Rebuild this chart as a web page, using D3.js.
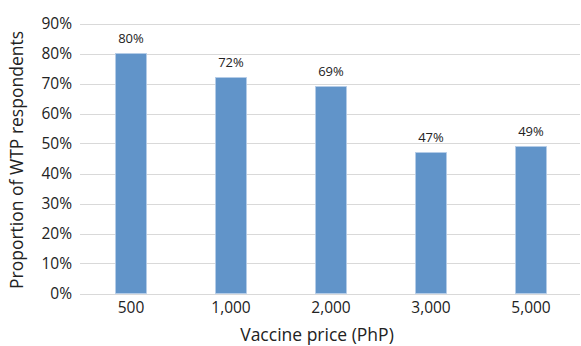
<!DOCTYPE html>
<html><head><meta charset="utf-8">
<script src="https://cdn.jsdelivr.net/npm/d3@7"></script>
<style>body{margin:0;background:#fff}text{font-family:"Open Sans",sans-serif;fill:#222}</style>
</head><body>
<svg id="c" width="581" height="346"></svg>
<script>
const categories = ["500","1,000","2,000","3,000","5,000"];
const values = [80, 72, 69, 47, 49];
const yTicks = [0,10,20,30,40,50,60,70,80,90];

const svg = d3.select("#c");
const m = {left:81, right:0, top:23.5, bottom:52.5};
const W = 581, H = 346;
const x = d3.scaleBand().domain(categories).range([m.left, W - m.right]).paddingInner(0.69).paddingOuter(0.345);
const y = d3.scaleLinear().domain([0,90]).range([H - m.bottom, m.top]);

const grid = svg.append("g");
grid.selectAll("line").data(yTicks).join("line")
  .attr("x1", m.left - 1).attr("x2", W - 1)
  .attr("y1", d => Math.round(y(d)) + 0.5).attr("y2", d => Math.round(y(d)) + 0.5)
  .attr("stroke", "#d9d9d9").attr("stroke-width", 1);

const yAxis = d3.axisLeft(y).tickValues(yTicks).tickFormat(d => d + "%").tickSize(0).tickPadding(8);
const ga = svg.append("g").attr("transform", `translate(${m.left - 1},0)`).call(yAxis);
ga.select(".domain").remove();
ga.selectAll("text").style("font-size", "15.5px").attr("fill", "#222");

const xAxis = d3.axisBottom(x).tickSize(0).tickPadding(8);
const gx = svg.append("g").attr("transform", `translate(0,${H - m.bottom})`).call(xAxis);
gx.select(".domain").remove();
gx.selectAll("text").style("font-size", "15.5px").attr("fill", "#222");

svg.append("g").selectAll("rect").data(values).join("rect")
  .attr("x", (d,i) => x(categories[i]))
  .attr("width", x.bandwidth())
  .attr("y", d => y(d))
  .attr("height", d => y(0) - y(d))
  .attr("fill", "#6194c9")
  .attr("stroke", "#b6cde8").attr("stroke-width", 0.8);

svg.append("g").selectAll("text").data(values).join("text")
  .attr("x", (d,i) => x(categories[i]) + x.bandwidth()/2)
  .attr("y", d => y(d) - 11)
  .attr("text-anchor", "middle")
  .style("font-size", "13px")
  .text(d => d + "%");

svg.append("text").attr("x", 317).attr("y", 341).attr("text-anchor", "middle")
  .style("font-size", "17.5px").text("Vaccine price (PhP)");
svg.append("text").attr("transform", "translate(23,160) rotate(-90)").attr("text-anchor", "middle")
  .style("font-size", "17.5px").text("Proportion of WTP respondents");
</script>
</body></html>
